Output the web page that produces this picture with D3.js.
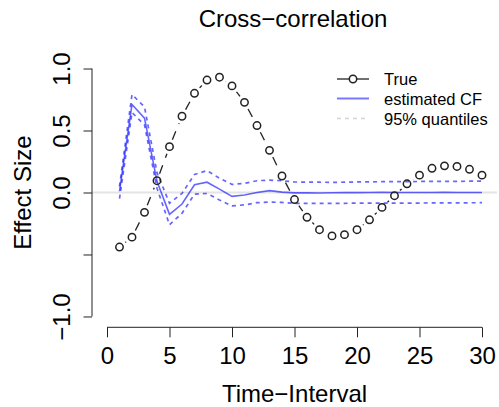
<!DOCTYPE html>
<html>
<head>
<meta charset="utf-8">
<script src="https://cdn.jsdelivr.net/npm/d3@7"></script>
<style>
  body { margin: 0; background: #fff; }
  svg { display: block; font-family: "Liberation Sans", Arial, sans-serif; }
</style>
</head>
<body>
<div id="chart"></div>
<script>
// lags 1..30
var lags = d3.range(1, 31);
var trueCF = [-0.44, -0.36, -0.16, 0.095, 0.37, 0.615, 0.80, 0.907, 0.93, 0.86,
              0.727, 0.54, 0.34, 0.133, -0.057, -0.20, -0.30, -0.35, -0.34, -0.30,
              -0.22, -0.12, -0.026, 0.07, 0.14, 0.195, 0.215, 0.21, 0.187, 0.14];
var estCF = [0.01, 0.71, 0.60, 0.09, -0.176, -0.093, 0.062, 0.083, 0.027, -0.031,
             -0.02, 0.0, 0.015, 0.003, -0.003, -0.003, -0.004, -0.002, 0.0, -0.001,
             0.0, 0.001, 0.0, 0.0, 0.0, 0.0, 0.001, 0.0, 0.0, 0.0];
var upperQ = [0.05, 0.79, 0.69, 0.16, -0.087, -0.007, 0.145, 0.177, 0.115, 0.065,
              0.074, 0.095, 0.10, 0.095, 0.085, 0.084, 0.083, 0.082, 0.083, 0.085,
              0.086, 0.087, 0.088, 0.088, 0.089, 0.09, 0.09, 0.09, 0.091, 0.092];
var lowerQ = [-0.05, 0.645, 0.545, 0.035, -0.26, -0.168, -0.013, -0.008, -0.06, -0.108,
              -0.10, -0.082, -0.077, -0.08, -0.087, -0.087, -0.088, -0.088, -0.087, -0.086,
              -0.085, -0.086, -0.086, -0.085, -0.085, -0.084, -0.084, -0.083, -0.083, -0.082];
var xTicks = [0, 5, 10, 15, 20, 25, 30];
var yTicks = [1, 0.5, 0, -0.5, -1];
var yTickLabels = ["1.0", "0.5", "0.0", "", "\u22121.0"];
var legendLabels = ["True", "estimated CF", "95% quantiles"];

var width = 499, height = 407,
    plot = {left: 92, right: 497, top: 58.6, bottom: 326.4};

var svg = d3.select("#chart").append("svg")
    .attr("width", width)
    .attr("height", height);

var x = d3.scaleLinear().domain([-1.2, 31.2]).range([plot.left, plot.right]),
    y = d3.scaleLinear().domain([-1.08, 1.08]).range([plot.bottom, plot.top]);

var blue = "rgba(0,0,255,0.6)";

// zero line
svg.append("line")
    .attr("x1", plot.left).attr("x2", plot.right)
    .attr("y1", y(0)).attr("y2", y(0))
    .attr("stroke", "#e4e4e4").attr("stroke-width", 2);

var line = d3.line()
    .x(function (d, i) { return x(lags[i]); })
    .y(function (d) { return y(d); });

svg.append("path").datum(estCF)
    .attr("d", line)
    .attr("fill", "none").attr("stroke", blue).attr("stroke-width", 1.6);

[upperQ, lowerQ].forEach(function (q) {
  svg.append("path").datum(q)
      .attr("d", line)
      .attr("fill", "none").attr("stroke", blue).attr("stroke-width", 1.7)
      .attr("stroke-dasharray", "4,4");
});

// true curve: type "b" -> dashed segments that stop short of the points
var gap = 7.5;
var segs = d3.pairs(trueCF.map(function (v, i) { return [x(lags[i]), y(v)]; }));
svg.append("g").selectAll("line")
    .data(segs.filter(function (s) {
      return Math.hypot(s[1][0] - s[0][0], s[1][1] - s[0][1]) > 2 * gap;
    }))
    .enter().append("line")
    .each(function (s) {
      var dx = s[1][0] - s[0][0], dy = s[1][1] - s[0][1],
          d = Math.hypot(dx, dy), ux = dx / d, uy = dy / d;
      d3.select(this)
        .attr("x1", s[0][0] + ux * gap).attr("y1", s[0][1] + uy * gap)
        .attr("x2", s[1][0] - ux * gap).attr("y2", s[1][1] - uy * gap);
    })
    .attr("stroke", "#222").attr("stroke-width", 1.3)
    .attr("stroke-dasharray", "9,8");

svg.append("g").selectAll("circle")
    .data(trueCF)
    .enter().append("circle")
    .attr("cx", function (d, i) { return x(lags[i]); })
    .attr("cy", function (d) { return y(d); })
    .attr("r", 3.7)
    .attr("fill", "none").attr("stroke", "#222").attr("stroke-width", 1.5);

// x axis
var xAxis = svg.append("g")
    .attr("transform", "translate(0," + (plot.bottom + 0.9) + ")")
    .call(d3.axisBottom(x).tickValues(xTicks).tickSize(10).tickSizeOuter(0));
xAxis.select(".domain").remove();
xAxis.append("line")
    .attr("x1", x(0)).attr("x2", x(30))
    .attr("stroke", "#222");
xAxis.selectAll(".tick line").attr("stroke", "#222");
xAxis.selectAll("text")
    .attr("y", 37).attr("dy", null)
    .attr("fill", "#000")
    .style("font-size", "24px");

// y axis
var yAxis = svg.append("g")
    .attr("transform", "translate(" + plot.left + ",0)")
    .call(d3.axisLeft(y).tickValues(yTicks).tickSize(8.5)
      .tickFormat(function (d, i) { return yTickLabels[i]; }));
yAxis.select(".domain").remove();
yAxis.append("line")
    .attr("y1", y(1)).attr("y2", y(-1))
    .attr("stroke", "#222");
yAxis.selectAll(".tick line").attr("stroke", "#222");
yAxis.selectAll("text")
    .attr("x", 0).attr("y", -22).attr("dy", null)
    .attr("transform", "rotate(-90)")
    .attr("text-anchor", "middle")
    .attr("fill", "#000")
    .style("font-size", "24px");

// titles
svg.append("text")
    .attr("x", (plot.left + plot.right) / 2 - 1.5).attr("y", 26.5)
    .attr("text-anchor", "middle").style("font-size", "24px")
    .text("Cross\u2212correlation");

svg.append("text")
    .attr("x", (plot.left + plot.right) / 2).attr("y", 401.5)
    .attr("text-anchor", "middle").style("font-size", "24px")
    .text("Time\u2212Interval");

svg.append("text")
    .attr("transform", "translate(31," + ((plot.top + plot.bottom) / 2) + ") rotate(-90)")
    .attr("text-anchor", "middle").style("font-size", "24px")
    .text("Effect Size");

// legend
var leg = svg.append("g").attr("transform", "translate(337,79)");
leg.append("line").attr("x1", 0).attr("x2", 12).attr("stroke", "#222").attr("stroke-width", 1.3);
leg.append("line").attr("x1", 20).attr("x2", 32).attr("stroke", "#222").attr("stroke-width", 1.3);
leg.append("circle").attr("cx", 16).attr("r", 3.7)
    .attr("fill", "none").attr("stroke", "#222").attr("stroke-width", 1.5);
leg.append("line").attr("x1", 0).attr("x2", 32).attr("y1", 19.5).attr("y2", 19.5)
    .attr("stroke", "#7878ff").attr("stroke-width", 2);
leg.append("line").attr("x1", 0).attr("x2", 32).attr("y1", 39.5).attr("y2", 39.5)
    .attr("stroke", "#d4d4d4").attr("stroke-width", 1.6).attr("stroke-dasharray", "4,4");
leg.selectAll("text.lab")
    .data(legendLabels)
    .enter().append("text")
    .attr("class", "lab")
    .attr("x", 47)
    .attr("y", function (d, i) { return i * 19.8 + 6.2; })
    .style("font-size", "16.5px")
    .text(function (d) { return d; });
</script>
</body>
</html>
